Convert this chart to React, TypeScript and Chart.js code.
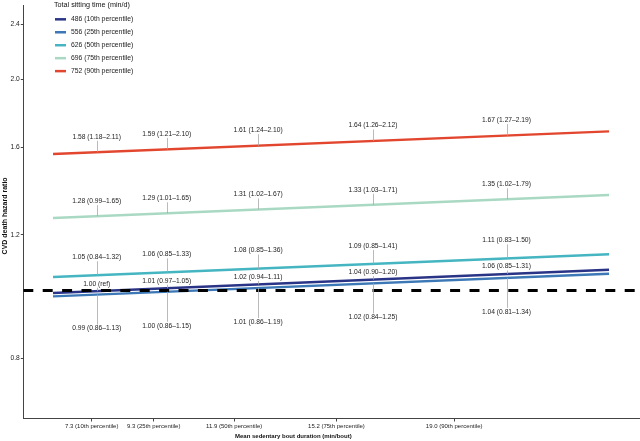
import { useEffect, useRef } from 'react';
import { Chart, registerables } from 'chart.js';

Chart.register(...registerables);

const FONT = "'Liberation Sans', Arial, Helvetica, sans-serif";

// Axis ticks
const xTickValues = [7.3, 9.3, 11.9, 15.2, 19.0];
const xTickLabels = [
  '7.3 (10th percentile)',
  '9.3 (25th percentile)',
  '11.9 (50th percentile)',
  '15.2 (75th percentile)',
  '19.0 (90th percentile)',
];
const yTickValues = [0.8, 1.2, 1.6, 2.0, 2.4];

// Series
const seriesNames = [
  '486 (10th percentile)',
  '556 (25th percentile)',
  '626 (50th percentile)',
  '696 (75th percentile)',
  '752 (90th percentile)',
];
const seriesColors = ['#2a3486', '#3c78b6', '#44b5c1', '#a9d9c3', '#e2462e'];

// Fitted lines (start / end of bout-duration range)
const lineX = [6.05, 24.0];
const line486 = [0.9915, 1.0705];
const line556 = [0.9806, 1.0565];
const line626 = [1.0451, 1.1264];
const line696 = [1.2687, 1.3683];
const line752 = [1.5656, 1.6864];

// Reference line HR = 1
const refX = [5.09, 25];
const refY = [1, 1];

// Annotation anchors and texts
const annotX = [7.46, 9.72, 12.67, 16.38, 20.69];
const ann486 = ['1.00 (ref)', '1.01 (0.97–1.05)', '1.02 (0.94–1.11)', '1.04 (0.90–1.20)', '1.06 (0.85–1.31)'];
const ann556 = ['0.99 (0.86–1.13)', '1.00 (0.86–1.15)', '1.01 (0.86–1.19)', '1.02 (0.84–1.25)', '1.04 (0.81–1.34)'];
const ann626 = ['1.05 (0.84–1.32)', '1.06 (0.85–1.33)', '1.08 (0.85–1.36)', '1.09 (0.85–1.41)', '1.11 (0.83–1.50)'];
const ann696 = ['1.28 (0.99–1.65)', '1.29 (1.01–1.65)', '1.31 (1.02–1.67)', '1.33 (1.03–1.71)', '1.35 (1.02–1.79)'];
const ann752 = ['1.58 (1.18–2.11)', '1.59 (1.21–2.10)', '1.61 (1.24–2.10)', '1.64 (1.26–2.12)', '1.67 (1.27–2.19)'];

const seriesLines = [line486, line556, line626, line696, line752];
const seriesAnn = [ann486, ann556, ann626, ann696, ann752];
const labelOffsets = [7.5, -34, 18, 15, 15.5];

const overlayPlugin = {
  id: 'overlay',
  afterDatasetsDraw(chart: any) {
    const { ctx, scales } = chart;
    const xs = scales.x;
    const ys = scales.y;
    ctx.save();
    seriesLines.forEach((ln, si) => {
      const x0 = xs.getPixelForValue(lineX[0]);
      const x1 = xs.getPixelForValue(lineX[1]);
      const y0 = ys.getPixelForValue(ln[0]);
      const y1 = ys.getPixelForValue(ln[1]);
      const off = labelOffsets[si];
      seriesAnn[si].forEach((txt, i) => {
        const px = xs.getPixelForValue(annotX[i]);
        const t = (px - x0) / (x1 - x0);
        const py = y0 + t * (y1 - y0);
        const ly = py - off;
        const edge = off > 0 ? ly + 4 : ly - 4;
        ctx.strokeStyle = '#a8a8a8';
        ctx.lineWidth = 0.8;
        ctx.beginPath();
        ctx.moveTo(Math.round(px) + 0.5, py);
        ctx.lineTo(Math.round(px) + 0.5, edge);
        ctx.stroke();
        ctx.fillStyle = '#222';
        ctx.font = `6.7px ${FONT}`;
        ctx.textAlign = 'center';
        ctx.textBaseline = 'middle';
        ctx.fillText(txt, px, ly);
      });
    });
    ctx.restore();
  },
  afterDraw(chart: any) {
    const { ctx, chartArea } = chart;
    ctx.save();
    // legend
    const lx = chartArea.left + 30.7;
    ctx.fillStyle = '#111';
    ctx.textAlign = 'left';
    ctx.textBaseline = 'middle';
    ctx.font = `7.2px ${FONT}`;
    ctx.fillText('Total sitting time (min/d)', lx, chartArea.top);
    seriesNames.forEach((name, i) => {
      const yy = chartArea.top + 14.3 + i * 12.95;
      ctx.strokeStyle = seriesColors[i];
      ctx.lineWidth = 2.5;
      ctx.beginPath();
      ctx.moveTo(lx + 1, yy);
      ctx.lineTo(lx + 12, yy);
      ctx.stroke();
      ctx.fillStyle = '#222';
      ctx.font = `6.8px ${FONT}`;
      ctx.fillText(name, lx + 17, yy);
    });
    // axis titles
    ctx.fillStyle = '#111';
    ctx.font = `bold 6px ${FONT}`;
    ctx.textAlign = 'center';
    ctx.textBaseline = 'middle';
    ctx.fillText('Mean sedentary bout duration (min/bout)', chartArea.left + (chartArea.right - chartArea.left) * 0.4378, 436);
    ctx.translate(4.6, chartArea.top + (chartArea.bottom - chartArea.top) * 0.51);
    ctx.rotate(-Math.PI / 2);
    ctx.font = `bold 7px ${FONT}`;
    ctx.fillText('CVD death hazard ratio', 0, 0);
    ctx.restore();
  },
};

export default function App() {
  const ref = useRef<HTMLCanvasElement | null>(null);

  useEffect(() => {
    if (!ref.current) return;
    const axisColor = '#444';
    const datasets: any[] = [
      {
        label: 'ref',
        data: refX.map((x, i) => ({ x, y: refY[i] })),
        borderColor: '#000',
        borderWidth: 3,
        borderDash: [10, 9.4],
        pointRadius: 0,
        fill: false,
      },
      ...seriesLines.map((ln, i) => ({
        label: seriesNames[i],
        data: lineX.map((x, j) => ({ x, y: ln[j] })),
        borderColor: seriesColors[i],
        backgroundColor: seriesColors[i],
        borderWidth: 2.4,
        pointRadius: 0,
        fill: false,
      })),
    ];
    const chart = new Chart(ref.current, {
      type: 'line',
      data: { datasets },
      plugins: [overlayPlugin],
      options: {
        animation: false,
        responsive: false,
        devicePixelRatio: 1,
        layout: { padding: { top: 5, right: 0, left: 0, bottom: 0 } },
        plugins: { legend: { display: false }, tooltip: { enabled: false } },
        scales: {
          x: {
            type: 'linear',
            min: 5.09,
            max: 25,
            afterBuildTicks: (s: any) => {
              s.ticks = xTickValues.map((v) => ({ value: v }));
            },
            afterFit: (s: any) => {
              s.height = 22.5;
            },
            ticks: {
              callback: (_v: any, i: number) => xTickLabels[i],
              font: { family: FONT, size: 6 },
              color: '#222',
              padding: 1.5,
              maxRotation: 0,
              minRotation: 0,
              autoSkip: false,
            },
            grid: {
              display: true,
              drawOnChartArea: false,
              drawTicks: true,
              tickLength: 3,
              tickColor: axisColor,
              color: axisColor,
            },
            border: { display: true, color: axisColor, width: 1 },
          },
          y: {
            type: 'logarithmic',
            min: 0.6564,
            max: 2.555,
            afterBuildTicks: (s: any) => {
              s.ticks = yTickValues.map((v) => ({ value: v }));
            },
            afterFit: (s: any) => {
              s.width = 23.3;
            },
            ticks: {
              callback: (v: any) => Number(v).toFixed(1),
              font: { family: FONT, size: 6.7 },
              color: '#222',
              padding: 1,
              autoSkip: false,
            },
            grid: {
              display: true,
              drawOnChartArea: false,
              drawTicks: true,
              tickLength: 2.5,
              tickColor: axisColor,
              color: axisColor,
            },
            border: { display: true, color: axisColor, width: 1 },
          },
        },
      } as any,
    });
    return () => chart.destroy();
  }, []);

  return (
    <div style={{ position: 'fixed', left: 0, top: 0, width: 640, height: 441, background: '#fff' }}>
      <canvas ref={ref} width={640} height={441} style={{ display: 'block' }} />
    </div>
  );
}
